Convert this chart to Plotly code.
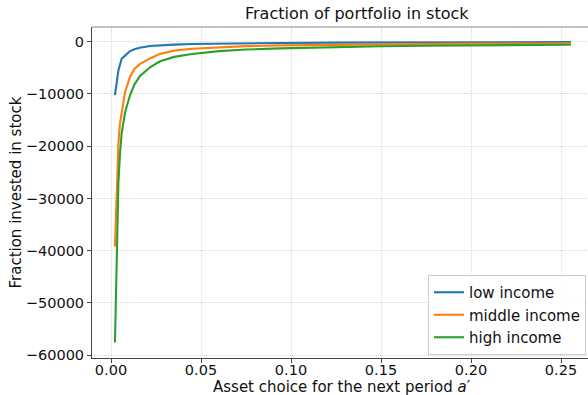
import plotly.graph_objects as go

# Next-period asset grid a'
asset_next = [0.0022, 0.0028, 0.0032, 0.0041, 0.005, 0.0059, 0.0078, 0.0106,
              0.013, 0.016, 0.0217, 0.027, 0.035, 0.045, 0.06, 0.075, 0.094,
              0.125, 0.15, 0.175, 0.2, 0.225, 0.2555]

# Amount invested in stock for each income state
stock_low = [-10200, -8800, -7750, -5480, -4370, -3260, -2660, -1780,
             -1450, -1150, -820, -690, -560, -440, -340, -280, -230,
             -180, -150, -130, -110, -95, -80]
stock_mid = [-39200, -34000, -30300, -19500, -15600, -13600, -9650, -6700,
             -5200, -4300, -3200, -2350, -1700, -1330, -1050, -850, -690,
             -560, -480, -420, -370, -335, -300]
stock_high = [-57600, -49500, -39900, -27100, -21400, -17600, -13500, -10200,
              -8200, -6600, -4900, -3800, -2900, -2350, -1800, -1500, -1270,
              -1000, -860, -760, -690, -630, -570]

series_names = ["low income", "middle income", "high income"]
series_colors = ["#1f77b4", "#ff7f0e", "#2ca02c"]

x_ticks = [0.0, 0.05, 0.10, 0.15, 0.20, 0.25]
y_ticks = [0, -10000, -20000, -30000, -40000, -50000, -60000]
y_ticklabels = ["0", "\u221210000", "\u221220000", "\u221230000",
                "\u221240000", "\u221250000", "\u221260000"]

FONT = "DejaVu Sans, Arial, sans-serif"
W, H = 588, 395
L, R, T, B = 92, 0, 27, 37

fig = go.Figure()
for name, color, ys in zip(series_names, series_colors,
                           [stock_low, stock_mid, stock_high]):
    fig.add_trace(go.Scatter(x=asset_next, y=ys, mode="lines", name=name,
                             line=dict(color=color, width=2.1)))

axis_common = dict(
    showgrid=True, gridcolor="#d8d8d8", griddash="1px,1px", gridwidth=1,
    zeroline=False, showline=True, linecolor="#444444", linewidth=1,
    ticks="outside", ticklen=4, tickwidth=1, tickcolor="#444444",
    tickfont=dict(family=FONT, size=14.5, color="#111111"),
)

fig.update_xaxes(range=[-0.01056, 0.265], tickvals=x_ticks,
                 tickformat=".2f", ticklabelstandoff=-5, **axis_common)
fig.update_yaxes(range=[-60550, 2820], tickvals=y_ticks,
                 ticktext=y_ticklabels, **axis_common)

plot_w = W - L - R
plot_h = H - T - B

fig.update_layout(
    width=W, height=H,
    margin=dict(l=L, r=R, t=T, b=B, pad=0),
    paper_bgcolor="white", plot_bgcolor="white",
    font=dict(family=FONT, size=14, color="#111111"),
    showlegend=True,
    legend=dict(
        x=(586 - L) / plot_w, xanchor="right",
        y=(H - B - 355) / plot_h, yanchor="bottom",
        bgcolor="rgba(255,255,255,0.85)", bordercolor="#cccccc",
        borderwidth=1, font=dict(family=FONT, size=15, color="#111111"),
        traceorder="normal",
    ),
    shapes=[dict(type="line", xref="paper", yref="paper",
                 x0=0, x1=1, y0=1, y1=1,
                 line=dict(color="#888888", width=1))],
    annotations=[
        dict(text="Fraction of portfolio in stock", xref="paper",
             yref="paper", x=(357 - L) / plot_w, y=1, yshift=2,
             xanchor="center", yanchor="bottom", showarrow=False,
             font=dict(family=FONT, size=16, color="#111111")),
        dict(text="Asset choice for the next period <i>a</i>\u2032",
             xref="paper", yref="paper", x=(342 - L) / plot_w, y=0,
             yshift=-18, xanchor="center", yanchor="top", showarrow=False,
             font=dict(family=FONT, size=15, color="#111111")),
        dict(text="Fraction invested in stock", xref="paper",
             yref="paper", x=0, xshift=-77, y=0.5, textangle=-90,
             xanchor="center", yanchor="middle", showarrow=False,
             font=dict(family=FONT, size=15, color="#111111")),
    ],
)

fig.write_html("out.html")
